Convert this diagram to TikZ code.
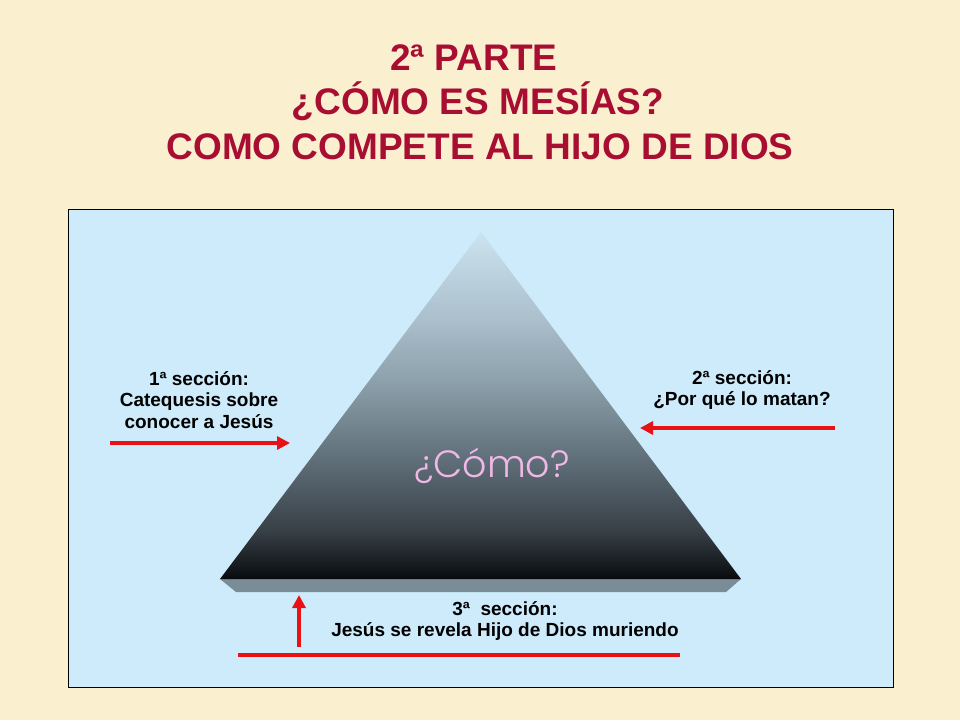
\documentclass[tikz,border=0pt]{standalone}
\usepackage{fontspec}
\setmainfont{Liberation Sans}
\newfontfamily\comofont{Poppins}[UprightFont={* Light}]
\usetikzlibrary{positioning,calc,arrows.meta}

\definecolor{parchment}{RGB}{250,239,206}
\definecolor{skypanel}{RGB}{205,235,251}
\definecolor{titlered}{RGB}{168,14,50}
\definecolor{arrowred}{RGB}{232,18,22}
\definecolor{comopink}{RGB}{240,184,230}
\definecolor{slabgray}{RGB}{122,140,152}

% light at the apex, near black at the base
\pgfdeclareverticalshading{pyramidfade}{100bp}{%
  rgb(0bp)=(0.03,0.04,0.05);
  rgb(25bp)=(0.03,0.04,0.05);
  rgb(26.5bp)=(0.07,0.09,0.10);
  rgb(32bp)=(0.22,0.25,0.28);
  rgb(42bp)=(0.37,0.43,0.47);
  rgb(53.5bp)=(0.55,0.63,0.67);
  rgb(62.5bp)=(0.67,0.75,0.80);
  rgb(75bp)=(0.80,0.89,0.94);
  rgb(100bp)=(0.80,0.89,0.94)}

\tikzset{
  titletext/.style={text=titlered,font=\fontsize{37}{45}\selectfont\bfseries,inner sep=0pt,anchor=base},
  sectext/.style={font=\fontsize{19}{21.5}\selectfont\bfseries,align=center,inner sep=0pt},
  redarrow/.style={draw=arrowred,line width=3.2pt,-{Triangle[length=13pt,width=13pt]}},
  redline/.style={draw=arrowred,line width=3.2pt},
}

\begin{document}
\begin{tikzpicture}[x=1pt,y=-1pt]
    \useasboundingbox (0,0) rectangle (960,720);
    \fill[parchment] (0,0) rectangle (960,720);

    % Title
    \node[titletext] (title1) at (474,70) {2ª PARTE};
    \node[titletext] (title2) at (478,114) {¿CÓMO ES MESÍAS?};
    \node[titletext] (title3) at (480,159) {COMO COMPETE AL HIJO DE DIOS};

    % Panel
    \draw[fill=skypanel,line width=0.8pt] (68,209) rectangle (893,687);

    % Pyramid
    \coordinate (apex) at (481,232);
    \coordinate (baseL) at (220,579);
    \coordinate (baseR) at (741,579);
    \coordinate (slabL) at (236,592);
    \coordinate (slabR) at (726,592);
    \fill[slabgray] (baseL) -- (baseR) -- (slabR) -- (slabL) -- cycle;
    \shade[shading=pyramidfade] (apex) -- (baseR) -- (baseL) -- cycle;
    \node[text=comopink,font=\fontsize{38}{40}\selectfont\comofont] (como) at (492,466) {¿Cómo?};

    % Sections
    \node[sectext] (sec1) at (199,400) {1ª sección:\\Catequesis sobre\\conocer a Jesús};
    \node[sectext] (sec2) at (742,390) {2ª sección:\\¿Por qué lo matan?};
    \node[sectext] (sec3) at (505,621) {3ª\ \ sección:\\Jesús se revela Hijo de Dios muriendo};

    % Arrows
    \coordinate (a1s) at (110,443); \coordinate (a1e) at (290,443);
    \coordinate (a2s) at (835,428); \coordinate (a2e) at (640,428);
    \coordinate (a3s) at (299,647); \coordinate (a3e) at (299,595);
    \coordinate (b3s) at (238,655); \coordinate (b3e) at (680,655);
    \draw[redarrow] (a1s) -- (a1e);
    \draw[redarrow] (a2s) -- (a2e);
    \draw[redarrow] (a3s) -- (a3e);
    \draw[redline] (b3s) -- (b3e);
\end{tikzpicture}
\end{document}
